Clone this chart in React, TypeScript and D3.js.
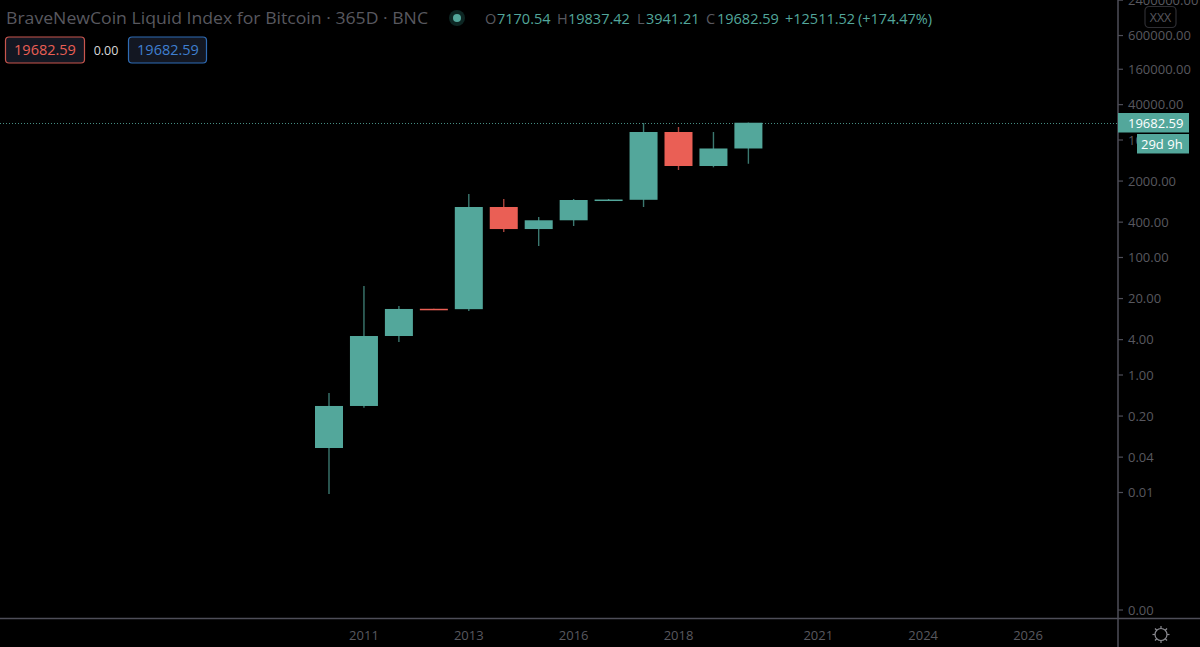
import React from "react";
import * as d3 from "d3";

const opens = [0.0572, 0.297, 4.61, 13.4, 13.2, 724, 305, 430, 952, 960, 13680, 3609, 7170.54];
const highs = [0.494, 32.7, 14.9, 13.4, 1202, 990, 489, 990, 990, 19450, 16630, 13680, 19837.42];
const lows = [0.0094, 0.278, 3.65, 13.1, 12.3, 272, 157, 344, 950, 724, 3083, 3430, 3941.21];
const closes = [0.297, 4.61, 13.3, 13.1, 724, 305, 430, 952, 970, 13680, 3609, 7170, 19682.59];
const bearish = [false, false, false, true, false, true, false, false, false, false, true, false, false];

const yTicks = [2400000, 600000, 160000, 40000, 10000, 2000, 400, 100, 20, 4, 1, 0.2, 0.04, 0.01, 0.0001];
const timeLabels = ["2011", "2013", "2016", "2018", "2021", "2024", "2026"];
const timeSlots = [1, 4, 7, 10, 14, 17, 20];

const title = "BraveNewCoin Liquid Index for Bitcoin · 365D · BNC";
const lastPrice = 19682.59;
const priceText = "19682.59";
const countdown = "29d 9h";

const TEAL = "#53a79b";
const RED = "#ea5f55";
const AXIS = "#4e4e58";
const MUTED = "#58585f";
const FONT = "'Open Sans', 'Noto Sans', sans-serif";

const y = d3.scaleLog().domain([1, 10000]).range([375, 140]);
const x = d3.scaleLinear().domain([0, 1]).range([329, 363.95]);

export default function App() {
  const bodyW = 28;
  const lastY = Math.round(y(lastPrice)) + 0.5;
  return (
    <svg width={1200} height={647} viewBox="0 0 1200 647"
      style={{ position: "fixed", left: 0, top: 0, display: "block", background: "#000", fontFamily: FONT }}>
      <rect width={1200} height={647} fill="#000" />

      {opens.map((o, i) => {
        const color = bearish[i] ? RED : TEAL;
        const top = Math.min(y(o), y(closes[i]));
        const bottom = Math.max(y(o), y(closes[i]));
        return (
          <g key={i}>
            <line x1={x(i)} x2={x(i)} y1={y(highs[i])} y2={y(lows[i])} stroke={color} strokeWidth={1.4} opacity={0.72} />
            <rect x={x(i) - bodyW / 2} y={top} width={bodyW} height={Math.max(bottom - top, 1.5)} fill={color} />
          </g>
        );
      })}

      <line x1={0} x2={1118} y1={lastY} y2={lastY} stroke={TEAL} strokeWidth={1} strokeDasharray="1 2" opacity={0.85} />

      <line x1={1118} x2={1118} y1={0} y2={647} stroke={AXIS} strokeWidth={1.5} />
      <line x1={0} x2={1200} y1={618.5} y2={618.5} stroke={AXIS} strokeWidth={1.5} />

      {yTicks.map((t) => (
        <g key={t}>
          <line x1={1118} x2={1123} y1={y(t)} y2={y(t)} stroke={AXIS} strokeWidth={1.2} />
          <text x={1128} y={y(t) + 4.5} fontSize={13} fill={MUTED}>{t.toFixed(2)}</text>
        </g>
      ))}

      {timeLabels.map((l, i) => (
        <text key={l} x={x(timeSlots[i])} y={640} fontSize={13} fill={MUTED} textAnchor="middle">{l}</text>
      ))}

      <rect x={1145} y={6.5} width={31} height={21} rx={4} fill="#000" stroke="#2e2e33" strokeWidth={1.2} />
      <text x={1160.5} y={21.5} fontSize={12.5} fill={MUTED} textAnchor="middle">XXX</text>

      <rect x={1118} y={113} width={71} height={19.5} fill={TEAL} />
      <text x={1128} y={127.5} fontSize={13} fill="#fff">{priceText}</text>
      <rect x={1137} y={134} width={52} height={19.5} fill={TEAL} />
      <text x={1141} y={148.5} fontSize={13} fill="#fff">{countdown}</text>

      <g transform="translate(1161,634.5)" stroke="#8a8a90" fill="none" strokeWidth={1.2}>
        <circle r={6} />
        {d3.range(8).map((k) => {
          const a = (k * Math.PI) / 4;
          return <line key={k} x1={6 * Math.cos(a)} y1={6 * Math.sin(a)} x2={8.5 * Math.cos(a)} y2={8.5 * Math.sin(a)} />;
        })}
      </g>

      <text x={6} y={24} fontSize={16.5} fill={MUTED} textLength={422} lengthAdjust="spacingAndGlyphs">{title}</text>
      <circle cx={457} cy={18} r={8} fill="#0d2623" />
      <circle cx={457} cy={18} r={4} fill={TEAL} />

      <g fontSize={14.5}>
        <text x={485} y={24} fill={MUTED}>O</text>
        <text x={497} y={24} fill={TEAL}>7170.54</text>
        <text x={557} y={24} fill={MUTED}>H</text>
        <text x={568} y={24} fill={TEAL}>19837.42</text>
        <text x={637} y={24} fill={MUTED}>L</text>
        <text x={646} y={24} fill={TEAL}>3941.21</text>
        <text x={706} y={24} fill={MUTED}>C</text>
        <text x={717} y={24} fill={TEAL}>19682.59</text>
        <text x={785} y={24} fill={TEAL}>+12511.52</text>
        <text x={858} y={24} fill={TEAL}>(+174.47%)</text>
      </g>

      <rect x={5.5} y={37} width={79} height={26} rx={3.5} fill="#131722" stroke="#c9564e" strokeWidth={1.2} />
      <text x={45} y={55} fontSize={14.5} fill={RED} textAnchor="middle">{priceText}</text>
      <text x={106} y={55} fontSize={12.5} fill="#d8d8d8" textAnchor="middle">0.00</text>
      <rect x={128.5} y={37} width={78} height={26} rx={3.5} fill="#131722" stroke="#2f6cb5" strokeWidth={1.2} />
      <text x={168} y={55} fontSize={14.5} fill="#3f7fd0" textAnchor="middle">{priceText}</text>
    </svg>
  );
}
